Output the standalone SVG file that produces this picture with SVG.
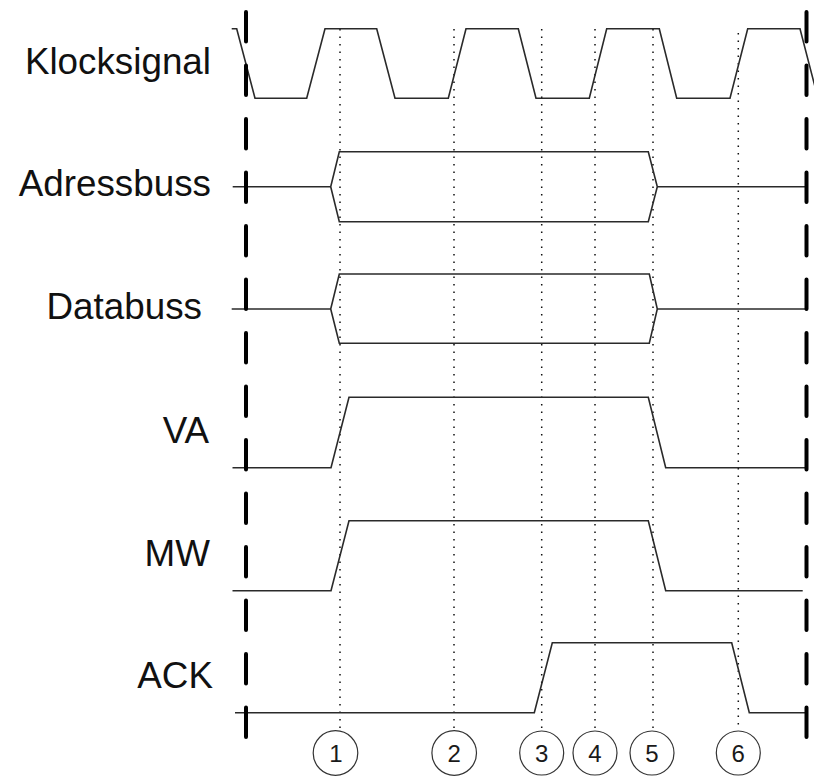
<svg xmlns="http://www.w3.org/2000/svg" width="814" height="776" viewBox="0 0 814 776">
  <style>
    .label { font-family: "Liberation Sans", Arial, Helvetica, sans-serif; font-size: 36.8px; fill: #111; text-anchor: end; }
    .num { font-family: "Liberation Sans", Arial, Helvetica, sans-serif; font-size: 24px; fill: #1a1a1a; text-anchor: middle; }
    .sig { fill: none; stroke: #2a2a2a; stroke-width: 1.6; stroke-linejoin: miter; }
    .guide { fill: none; stroke: #111; stroke-width: 1.5; stroke-dasharray: 1.4 6.1; }
    .bound { fill: none; stroke: #000; stroke-width: 4; stroke-linecap: round; stroke-dasharray: 29.5 24; }
    .mark { fill: #fff; stroke: #333; stroke-width: 1.2; }
  </style>
  <rect width="814" height="776" fill="#fff"/>

  <!-- vertical timing guides at the numbered events -->
  <g id="guides">
    <line class="guide" x1="340" y1="29" x2="340" y2="728"/>
    <line class="guide" x1="454" y1="29" x2="454" y2="728"/>
    <line class="guide" x1="541.7" y1="29" x2="541.7" y2="728"/>
    <line class="guide" x1="595" y1="29" x2="595" y2="728"/>
    <line class="guide" x1="653" y1="29" x2="653" y2="728"/>
    <line class="guide" x1="738.3" y1="33" x2="738.3" y2="727"/>
  </g>

  <!-- signal traces -->
  <g id="connectors">
    <g id="clock">
      <polyline class="sig" points="231.7,28.7 236.7,28.7 255,98.3 306.7,98.3 325,28.7 376.7,28.7 395,98.3 448.3,98.3 466,28.7 518.3,28.7 536,98.3 589.3,98.3 606.7,28.7 659.3,28.7 676.7,98.3 730,98.3 747.7,28.7 800,28.7 818,98.3"/>
    </g>
    <g id="addressbus">
      <line class="sig" x1="232.7" y1="186.7" x2="330.7" y2="186.7"/>
      <polygon class="sig" points="330.7,186.7 339.3,151.7 648.3,151.7 657.3,186.7 648.3,221.7 339.3,221.7"/>
      <line class="sig" x1="657.3" y1="186.7" x2="806.5" y2="186.7"/>
    </g>
    <g id="databus">
      <line class="sig" x1="231.7" y1="309" x2="330.7" y2="309"/>
      <polygon class="sig" points="330.7,309 339.3,274 649.3,274 657.3,309 649.3,343.3 339.3,343.3"/>
      <line class="sig" x1="657.3" y1="309" x2="806.5" y2="309"/>
    </g>
    <g id="va">
      <polyline class="sig" points="232.5,467.7 331,467.7 349,397.3 648.3,397.3 665.7,467.7 806.5,467.7"/>
    </g>
    <g id="mw">
      <polyline class="sig" points="232.5,590.7 331,590.7 349,520.7 648.3,520.7 665.7,590.7 802.7,590.7"/>
    </g>
    <g id="ack">
      <polyline class="sig" points="235,712.7 534.3,712.7 552.3,642.7 731.7,642.7 749.3,712.7 806.5,712.7"/>
    </g>
  </g>

  <!-- cycle boundaries -->
  <g id="boundaries">
    <line class="bound" x1="246" y1="12" x2="246" y2="737"/>
    <line class="bound" x1="806.5" y1="12" x2="806.5" y2="737"/>
  </g>

  <!-- signal names -->
  <g id="labels">
    <text id="label-clock" class="label" x="211" y="74.3">Klocksignal</text>
    <text id="label-addressbus" class="label" x="211" y="196">Adressbuss</text>
    <text id="label-databus" class="label" x="202" y="319">Databuss</text>
    <text id="label-va" class="label" x="209" y="443.3">VA</text>
    <text id="label-mw" class="label" x="210" y="565.7">MW</text>
    <text id="label-ack" class="label" x="213" y="688.3">ACK</text>
  </g>

  <!-- numbered event markers -->
  <g id="event-1"><circle class="mark" cx="335.5" cy="753" r="22.3"/><text class="num" x="336" y="761.5">1</text></g>
  <g id="event-2"><circle class="mark" cx="454.2" cy="753" r="22.3"/><text class="num" x="454.2" y="761.5">2</text></g>
  <g id="event-3"><circle class="mark" cx="541.7" cy="753" r="22"/><text class="num" x="541.7" y="761.5">3</text></g>
  <g id="event-4"><circle class="mark" cx="595" cy="753" r="22"/><text class="num" x="595" y="761.5">4</text></g>
  <g id="event-5"><circle class="mark" cx="652" cy="753" r="22"/><text class="num" x="652" y="761.5">5</text></g>
  <g id="event-6"><circle class="mark" cx="738.3" cy="753" r="22"/><text class="num" x="738.3" y="761.5">6</text></g>
</svg>
